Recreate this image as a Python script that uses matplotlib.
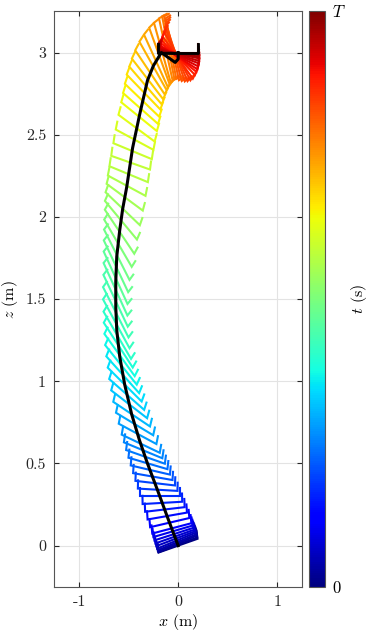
import matplotlib
matplotlib.use("Agg")
import matplotlib.pyplot as plt
import numpy as np

plt.rcParams['font.family'] = 'serif'
plt.rcParams['font.serif'] = ['cmr10', 'DejaVu Serif']
plt.rcParams['mathtext.fontset'] = 'cm'
plt.rcParams['axes.unicode_minus'] = False
plt.rcParams['axes.formatter.use_mathtext'] = True

# referencna trajektoria (cierna ciara)
ref_x = [0.0, -0.1, -0.21, -0.31, -0.39, -0.47, -0.54, -0.59, -0.62, -0.63, -0.63, -0.62,
         -0.59, -0.56, -0.52, -0.46, -0.39, -0.31, -0.25, -0.2, -0.17, -0.1, -0.03, 0.0, 0.0]
ref_z = [0.0, 0.16, 0.34, 0.5, 0.64, 0.8, 0.98, 1.15, 1.31, 1.45, 1.61, 1.76,
         1.92, 2.05, 2.18, 2.42, 2.62, 2.83, 2.92, 2.97, 3.0, 2.97, 2.94, 2.96, 3.0]

# polohy dronu v case (x, z, uhol v stupnoch)
dron_x = [0, -0.003, -0.007, -0.012, -0.018, -0.026, -0.034, -0.043, -0.053, -0.064,
          -0.085, -0.11, -0.134, -0.159, -0.183, -0.207, -0.232, -0.256, -0.281, -0.305, -0.33, -0.354, -0.378,
          -0.41, -0.44, -0.47, -0.495, -0.52, -0.54, -0.56, -0.578, -0.592, -0.605, -0.615,
          -0.625, -0.63, -0.632, -0.633, -0.632, -0.628, -0.62, -0.608, -0.592,
          -0.578, -0.56, -0.54, -0.52, -0.5, -0.48, -0.46, -0.44, -0.42, -0.395,
          -0.38, -0.365, -0.35, -0.33, -0.31, -0.285, -0.255, -0.225, -0.19, -0.16,
          -0.125, -0.1, -0.08, -0.06, -0.045, -0.03, -0.02, -0.01, -0.005, 0.0,
          0.005, 0.008, 0.01, 0.01, 0.008, 0.006, 0.004, 0.002, 0.001, 0.0]
dron_z = [0, 0.005, 0.012, 0.02, 0.03, 0.042, 0.055, 0.07, 0.087, 0.105,
          0.14, 0.18, 0.22, 0.26, 0.3, 0.34, 0.38, 0.42, 0.46, 0.5, 0.54, 0.58, 0.62,
          0.68, 0.74, 0.8, 0.86, 0.92, 0.98, 1.04, 1.1, 1.16, 1.22, 1.28,
          1.35, 1.42, 1.49, 1.56, 1.63, 1.7, 1.77, 1.84, 1.91,
          1.98, 2.05, 2.12, 2.19, 2.26, 2.33, 2.4, 2.47, 2.54, 2.61,
          2.66, 2.71, 2.76, 2.8, 2.84, 2.88, 2.92, 2.95, 2.98, 3.0,
          3.02, 3.03, 3.03, 3.02, 3.01, 3.0, 2.99, 2.98, 2.97, 2.97,
          2.97, 2.97, 2.975, 2.98, 2.985, 2.99, 2.993, 2.996, 2.998, 3.0]
dron_uhol = [12, 13, 14, 14, 14, 13, 12, 11, 10, 9,
             8, 6, 4, 2, 0, -2, -4, -6, -8, -10, -12, -14, -16,
             -18, -20, -22, -25, -28, -31, -34, -37, -40, -43, -46,
             -48, -50, -52, -53, -53, -52, -50, -46, -42,
             -36, -30, -24, -18, -14, -12, -14, -18, -24, -26,
             -28, -30, -32, -35, -38, -42, -47, -53, -59, -65,
             -70, -72, -72, -70, -66, -61, -55, -48, -40, -32,
             -26, -21, -17, -13, -10, -7, -5, -3, -1.5, 0]

# tvar dronu: rameno s dvoma nozickami
rameno = np.array([[-0.2, 0.05], [-0.2, 0.0], [0.2, 0.0], [0.2, 0.05]])


def tvar(x, z, uhol):
    a = np.deg2rad(uhol)
    R = np.array([[np.cos(a), -np.sin(a)], [np.sin(a), np.cos(a)]])
    p = rameno @ R.T
    return p[:, 0] + x, p[:, 1] + z


fig = plt.figure(figsize=(3.7, 6.38), dpi=100)
ax = fig.add_axes([0.147, 0.0804, 0.669, 0.9016])
cmap = plt.get_cmap('jet')
n = len(dron_x)
for i in range(n):
    px, pz = tvar(dron_x[i], dron_z[i], dron_uhol[i])
    ax.plot(px, pz, color=cmap(i / (n - 1)), lw=1.5, solid_joinstyle='miter')

ax.plot(ref_x, ref_z, color='k', lw=2.2)
px, pz = tvar(dron_x[-1], dron_z[-1], dron_uhol[-1])
ax.plot(px, pz, color='k', lw=2)

ax.set_xlim(-1.25, 1.25)
ax.set_ylim(-0.25, 3.25)
ax.set_xticks([-1, 0, 1])
ax.set_xticklabels(['-1', '0', '1'])
ax.set_yticks([0, 0.5, 1, 1.5, 2, 2.5, 3])
ax.set_yticklabels(['0', '0.5', '1', '1.5', '2', '2.5', '3'])
ax.grid(True, color='#e3e3e3', lw=0.8)
ax.set_axisbelow(True)
ax.tick_params(direction='in', length=3.5, top=True, right=True, labelsize=11.5,
               colors='#262626', pad=6)
for s in ax.spines.values():
    s.set_color('#555555')
    s.set_linewidth(0.8)
ax.set_xlabel(r'$x$ (m)', fontsize=11.5, labelpad=2)
ax.set_ylabel(r'$z$ (m)', fontsize=11.5, labelpad=4)

cax = fig.add_axes([0.836, 0.0804, 0.0432, 0.903])
sm = matplotlib.cm.ScalarMappable(cmap=cmap, norm=plt.Normalize(0, 1))
cb = fig.colorbar(sm, cax=cax, ticks=[0, 1])
cb.ax.set_yticklabels(['0', r'$T$'])
cb.ax.tick_params(length=0, labelsize=12, pad=5)
cb.outline.set_edgecolor('#555555')
cb.outline.set_linewidth(0.8)
cb.set_label(r'$t$ (s)', fontsize=11.5, labelpad=2)

plt.savefig('out.png', dpi=100)
